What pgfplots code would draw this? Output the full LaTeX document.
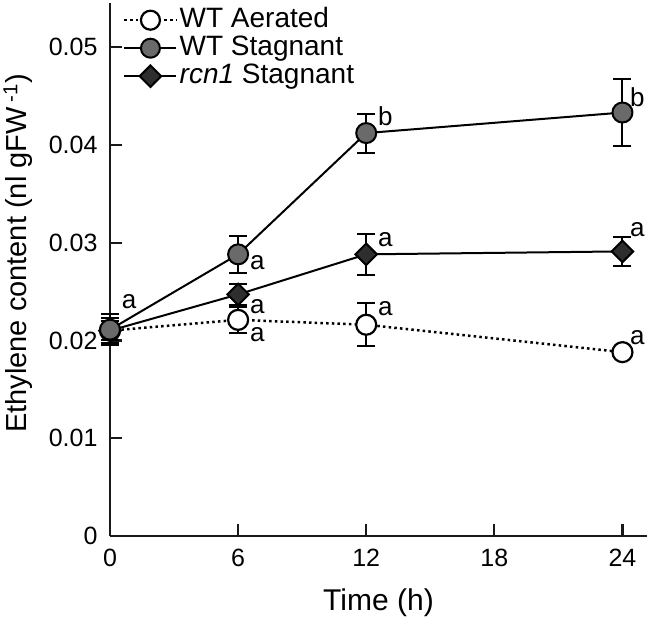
\documentclass[border=0pt]{standalone}
\usepackage{pgfplots}
\pgfplotsset{compat=1.18}
\usepackage{fontspec}
\setmainfont{Liberation Sans}
\definecolor{stag}{HTML}{6A6A6A}
\definecolor{rcn}{HTML}{2E2E2E}
\begin{document}
\begin{tikzpicture}
\useasboundingbox (-110pt,-82pt) rectangle (542pt,536pt);
\begin{axis}[
  scale only axis,
  width=537pt, height=533pt,
  at={(0,0)}, anchor=south west,
  xmin=0, xmax=25.15, ymin=0, ymax=0.0545,
  axis lines=left,
  axis line style={-, line width=2.2pt, black!90},
  xtick={0,6,12,18,24},
  ytick={0,0.01,0.02,0.03,0.04,0.05},
  scaled y ticks=false,
  tick align=inside,
  major tick length=12pt,
  tick style={line width=2.2pt, black!90},
  /pgf/number format/assume math mode=true,
  yticklabel style={/pgf/number format/fixed, /pgf/number format/precision=2, xshift=-9pt},
  xticklabel style={yshift=-9.5pt},
  tick label style={font=\fontsize{25}{30}\selectfont},
  xlabel={Time (h)},
  ylabel={Ethylene content (nl gFW\,\textsuperscript{-1})},
  xlabel style={font=\fontsize{30}{34}\selectfont, at={([yshift=-67pt]axis description cs:0.5,0)}, anchor=center},
  ylabel style={font=\fontsize{29}{34}\selectfont, at={([xshift=-92pt]axis description cs:0,0.53)}, anchor=center},
  clip=false,
  legend style={at={([xshift=13pt,yshift=-2pt]axis description cs:0,1)}, anchor=north west,
    draw=none, fill=none, inner sep=0pt, font=\fontsize{28}{30}\selectfont, row sep=-2pt,
    column sep=0pt,
    nodes={inner sep=2pt, text height=20pt, text depth=6pt}},
  legend cell align=left,
  legend image code/.code={\draw[mark repeat=2,mark phase=2,#1] plot coordinates {(0pt,0pt) (26pt,0pt) (52pt,0pt)};},
]
% WT Aerated
\addplot[forget plot, black, line width=2.5pt, dash pattern=on 2.5pt off 3.2pt,
  mark=*, mark size=10pt, mark options={solid, fill=white, line width=2.2pt}]
  coordinates {(0,0.0210) (6,0.0221) (12,0.0216) (24,0.0188)};
\addplot[forget plot, draw=none, line width=2pt, black,
  error bars/.cd, y dir=both, y explicit,
  error bar style={line width=2pt, black},
  error mark options={rotate=90, mark size=9pt, line width=2pt}]
  coordinates {(0,0.0210) +- (0,0.0010) (6,0.0221) +- (0,0.0013) (12,0.0216) +- (0,0.0022) (24,0.0188) +- (0,0.0003)};
% rcn1 Stagnant
\addplot[forget plot, black, line width=2pt,
  mark=square*, mark size=7.6pt, mark options={rotate=45, fill=rcn, line width=2pt}]
  coordinates {(0,0.0210) (6,0.0247) (12,0.0288) (24,0.0291)};
\addplot[forget plot, draw=none, black,
  error bars/.cd, y dir=both, y explicit,
  error bar style={line width=2pt, black},
  error mark options={rotate=90, mark size=9pt, line width=2pt}]
  coordinates {(0,0.0210) +- (0,0.0013) (6,0.0247) +- (0,0.0011) (12,0.0288) +- (0,0.0021) (24,0.0291) +- (0,0.0015)};
% WT Stagnant
\addplot[forget plot, black, line width=2pt,
  mark=*, mark size=10pt, mark options={fill=stag, line width=2pt}]
  coordinates {(0,0.0211) (6,0.0288) (12,0.0412) (24,0.0433)};
\addplot[forget plot, draw=none, black,
  error bars/.cd, y dir=both, y explicit,
  error bar style={line width=2pt, black},
  error mark options={rotate=90, mark size=9pt, line width=2pt}]
  coordinates {(0,0.0211) +- (0,0.0016) (6,0.0288) +- (0,0.0019) (12,0.0412) +- (0,0.0020) (24,0.0433) +- (0,0.0034)};
% legend
\addlegendimage{black, line width=2.5pt, dash pattern=on 2.5pt off 3.2pt, mark=*, mark size=9.5pt, mark options={solid, fill=white, line width=2.2pt}}
\addlegendentry{WT Aerated}
\addlegendimage{black, line width=2pt, mark=*, mark size=9.5pt, mark options={fill=stag, line width=2pt}}
\addlegendentry{WT Stagnant}
\addlegendimage{black, line width=2pt, mark=square*, mark size=7.6pt, mark options={rotate=45, fill=rcn, line width=2pt}}
\addlegendentry{\textit{rcn1} Stagnant}
% letters
\begin{scope}[every node/.style={font=\fontsize{26}{30}\selectfont, inner sep=0pt}]
\node at (axis cs:0.9,0.0240) {a};
\node at (axis cs:6.9,0.0280) {a};
\node at (axis cs:6.9,0.0235) {a};
\node at (axis cs:6.9,0.0206) {a};
\node at (axis cs:12.9,0.0429) {b};
\node at (axis cs:12.9,0.0303) {a};
\node at (axis cs:12.9,0.0232) {a};
\node at (axis cs:24.7,0.0449) {b};
\node at (axis cs:24.7,0.0313) {a};
\node at (axis cs:24.7,0.0203) {a};
\end{scope}
\end{axis}
\end{tikzpicture}
\end{document}
